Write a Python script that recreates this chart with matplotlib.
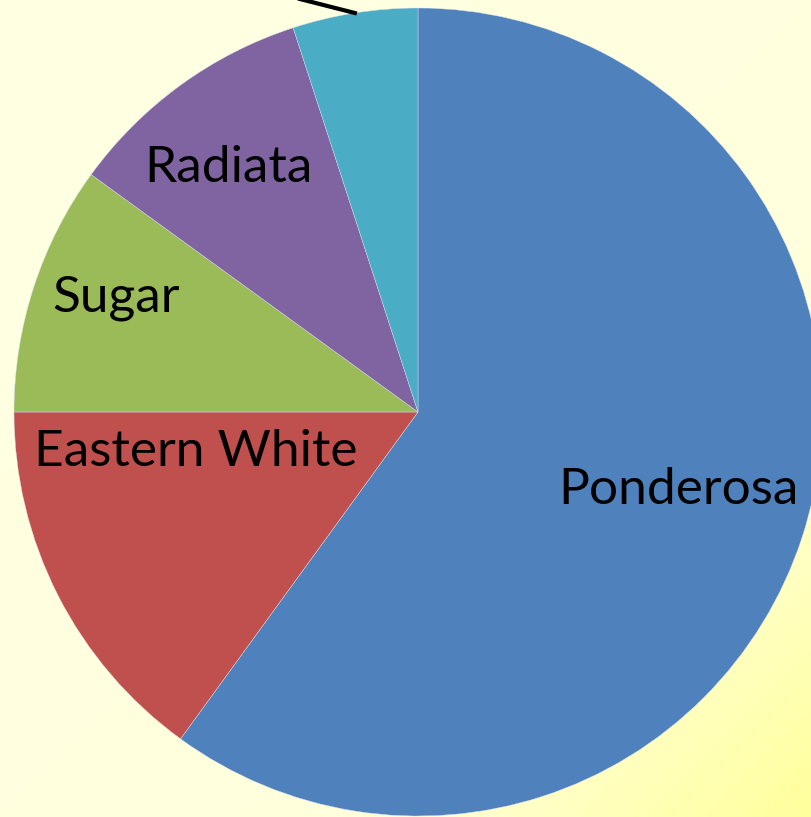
import numpy as np
import matplotlib
matplotlib.use('Agg')
import matplotlib.pyplot as plt
from matplotlib.colors import LinearSegmentedColormap

# pine species share (%), clockwise from 12 o'clock
species = ["Ponderosa", "Eastern White", "Sugar", "Radiata", "Other"]
shares = [60, 15, 10, 10, 5]
colors = ["#4F81BD", "#C0504D", "#9BBB59", "#8064A2", "#4BACC6"]

# label positions in pixels (x from left, y from top); the small slice's
# label sits above the frame so only its leader line shows
label_pos = [(678, 490), (196, 452), (116, 298), (228, 168), None]

W, H = 812, 817
fig = plt.figure(figsize=(W / 100, H / 100), dpi=100)
ax = fig.add_axes([0, 0, 1, 1])

# pale yellow diagonal background, yellower toward the bottom right
cmap = LinearSegmentedColormap.from_list("bg", ["#FFFFE2", "#FFFFDC", "#FFFF9C"])
yy, xx = np.mgrid[0:1:200j, 0:1:200j]
grad = ((xx + yy) / 2) ** 2
ax.imshow(grad, cmap=cmap, extent=[0, W, 0, H], origin='upper', aspect='auto', zorder=0)

cx, cy, r = 418, H - 412, 404
wedges, _ = ax.pie(shares, colors=colors, startangle=90, counterclock=False,
                   center=(cx, cy), radius=r, frame=True,
                   wedgeprops=dict(linewidth=0.3, edgecolor="#D8E0EC"))
ax.set_xlim(0, W)
ax.set_ylim(0, H)
ax.set_aspect('equal')
ax.axis('off')

for name, pos in zip(species, label_pos):
    if pos is None:
        continue
    ax.text(pos[0], H - pos[1], name, ha='center', va='center',
            fontsize=37, family='Lato', color='black')

# leader line for the small slice
w = wedges[-1]
mid = np.deg2rad((w.theta1 + w.theta2) / 2)
x0, y0 = cx + r * np.cos(mid), cy + r * np.sin(mid)
ax.plot([x0, x0 - 110], [y0, y0 + 28], color='black', lw=3, clip_on=True)

fig.savefig("out.png", dpi=100)
